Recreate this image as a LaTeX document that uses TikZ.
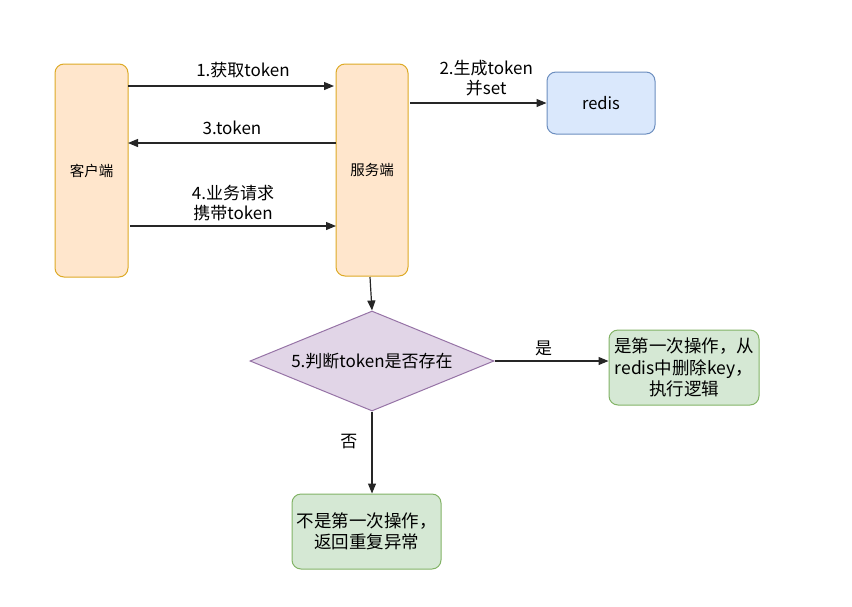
\documentclass[tikz,border=0pt]{standalone}
\usepackage{fontspec}
\setmainfont{Noto Sans CJK SC}
\usetikzlibrary{shapes.geometric,arrows.meta}
\definecolor{orF}{HTML}{FFE6CC}\definecolor{orD}{HTML}{D79B00}
\definecolor{blF}{HTML}{DAE8FC}\definecolor{blD}{HTML}{6C8EBF}
\definecolor{puF}{HTML}{E1D5E7}\definecolor{puD}{HTML}{9673A6}
\definecolor{grF}{HTML}{D5E8D4}\definecolor{grD}{HTML}{82B366}
\tikzset{
  box/.style={draw, rounded corners=9pt, line width=1pt, inner sep=0pt, align=center},
  orbox/.style={box, fill=orF, draw=orD!85!white, font=\fontsize{14.5}{17}\selectfont},
  blbox/.style={box, fill=blF, draw=blD, font=\fontsize{16.5}{19}\selectfont},
  grbox/.style={box, fill=grF, draw=grD, font=\fontsize{17.5}{21.5}\selectfont},
  dia/.style={diamond, draw=puD, fill=puF, line width=1pt, inner sep=0pt},
  arr/.style={-{Triangle[length=10pt,width=8pt]}, line width=1.2pt, draw=black!85},
  lab/.style={font=\fontsize{17}{20.5}\selectfont, align=center, inner sep=0pt}
}
\begin{document}
\begin{tikzpicture}[x=1pt,y=-1pt]
\useasboundingbox (0,0) rectangle (852,606);
\node[orbox, minimum width=73pt, minimum height=213pt] (client) at (91.5,170.5) {客户端};
\node[orbox, minimum width=72pt, minimum height=212pt] (server) at (372,170) {服务端};
\node[blbox, minimum width=108pt, minimum height=62pt] (redis) at (601,103) {redis};
\node[dia, minimum width=244pt, minimum height=100pt] (judge) at (372,361) {};
\node[lab] at (372,361) {5.判断token是否存在};
\node[grbox, minimum width=150pt, minimum height=75pt] (yes) at (684,367.5) {是第一次操作，从\\redis中删除key，\\执行逻辑};
\node[grbox, minimum width=149pt, minimum height=75pt] (no) at (366.5,531.5) {不是第一次操作，\\返回重复异常};
\coordinate (c1) at (128,86);   \coordinate (s1) at (334,86);
\coordinate (s2) at (410,103);
\coordinate (s3) at (336,143);  \coordinate (c3) at (128,143);
\coordinate (c4) at (130,226);  \coordinate (s4) at (336,226);
\coordinate (s5) at (370,277);
\draw[arr] (c1) -- (s1) node[lab, midway, above=8pt, xshift=12pt] {1.获取token};
\draw[arr] (s2) -- (redis.west|-s2) node[lab, midway, above=6pt, xshift=8pt] {2.生成token\\并set};
\draw[arr] (s3) -- (c3) node[lab, midway, above=8pt] {3.token};
\draw[arr] (c4) -- (s4) node[lab, midway, above=4pt] {4.业务请求\\携带token};
\draw[arr] (s5) -- (judge.north);
\draw[arr] (judge.east) -- (yes.west|-judge.east) node[lab, midway, above=5pt, xshift=-8pt] {是};
\draw[arr] (judge.south) -- (no.north-|judge.south) node[lab, pos=0.37, left=14pt] {否};
\end{tikzpicture}
\end{document}
